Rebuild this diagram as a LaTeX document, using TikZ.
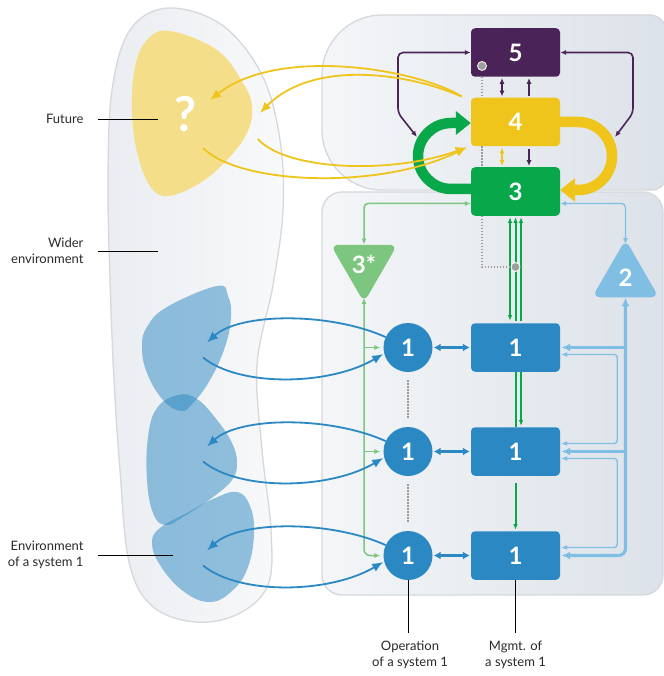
\documentclass[tikz,border=0pt]{standalone}
\usepackage{fontspec}
\setmainfont{Lato}
\usetikzlibrary{arrows.meta,shapes.geometric,calc}
\definecolor{cPurple}{HTML}{4A2358}
\definecolor{cYellow}{HTML}{EFC51B}
\definecolor{cGreen}{HTML}{08A84A}
\definecolor{cBlue}{HTML}{2B88C3}
\definecolor{cLBlue}{HTML}{80BFE3}
\definecolor{cLGreen}{HTML}{7CC67F}
\definecolor{cPaleYellow}{HTML}{F4DE8A}
\definecolor{cDot}{HTML}{9E9E9E}
\definecolor{cDotLine}{HTML}{9A9A9A}
\definecolor{cPanelL}{HTML}{F4F6F8}
\definecolor{cPanelR}{HTML}{DCE2E9}
\definecolor{cBorder}{HTML}{D5D8DC}
\definecolor{cEnvL}{HTML}{EAEDF1}
\definecolor{cEnvR}{HTML}{F8F9FA}
\definecolor{cText}{HTML}{2A2A2A}
\newcommand\vsmNum{\fontsize{24}{24}\selectfont\bfseries}
\newcommand\vsmLbl{\fontsize{13}{16.5}\selectfont}
\begin{document}
\begin{tikzpicture}[x=1pt,y=-1pt,
  >={Latex[length=6pt,width=5pt]},
  sysbox/.style={rectangle, rounded corners=4pt, minimum width=89pt, minimum height=48.5pt, inner sep=0pt, text=white, font=\vsmNum},
  opcircle/.style={circle, fill=cBlue, minimum size=49pt, inner sep=0pt, text=white, font=\vsmNum},
  tri/.style={regular polygon, regular polygon sides=3, minimum size=77pt, inner sep=0pt, rounded corners=8pt, text=white, font=\vsmNum},
  panel/.style={draw=cBorder, line width=1.3pt, left color=cPanelL, right color=cPanelR},
  envblob/.style={draw=cBorder, line width=1.3pt, left color=cEnvL, right color=cEnvR},
  bblob/.style={fill=cBlue, fill opacity=0.5},
  pline/.style={draw=cPurple, line width=1.6pt},
  yline/.style={draw=cYellow, line width=1.6pt},
  gline/.style={draw=cGreen, line width=2pt, >={Latex[length=6pt,width=4.5pt]}},
  lbthin/.style={draw=cLBlue, line width=1.3pt},
  lbthick/.style={draw=cLBlue, line width=3.2pt, >={Latex[length=9pt,width=8pt]}},
  lgline/.style={draw=cLGreen, line width=1.5pt},
  bthick/.style={draw=cBlue, line width=3pt, >={Latex[length=7pt,width=8pt]}},
  bcurve/.style={draw=cBlue, line width=1.8pt, >={Latex[length=11pt,width=9pt]}},
  ycurve/.style={draw=cYellow, line width=1.8pt, >={Latex[length=11pt,width=9pt]}},
  gdot/.style={draw=cDotLine, line width=1.6pt, dash pattern=on 1.4pt off 1.6pt},
  graydot/.style={circle, fill=cDot, draw=white, line width=0.8pt, minimum size=9pt, inner sep=0pt},
  lbl/.style={text=cText, font=\vsmLbl},
  leader/.style={draw=black, line width=0.9pt}
]
\useasboundingbox (0,0) rectangle (663,676);
\fill[white] (0,0) rectangle (663,676);

% ---------- backgrounds ----------
\path[envblob] plot[smooth cycle, tension=0.6] coordinates {
 (168,8) (222,25) (262,75) (280,140) (283,210) (273,285) (257,365) (262,450)
 (271,530) (268,585) (238,614) (195,622) (152,606) (129,562) (120,470)
 (114,380) (110,280) (108,180) (112,90) (130,30)};

\path[panel] (322,130) -- (322,75) .. controls (322,42) and (349,15) .. (382,15)
  -- (650,15) .. controls (658,15) and (666,22) .. (666,30) -- (666,176)
  .. controls (666,184) and (660,190) .. (652,190) -- (382,190)
  .. controls (349,190) and (322,163) .. (322,130) -- cycle;
\path[panel, rounded corners=20pt] (322,192) rectangle (663,595);

% future blob
\fill[cPaleYellow] plot[smooth cycle, tension=0.65] coordinates {
 (170,31) (217,50) (243,83) (252,107) (247,133) (227,160) (200,183) (168,196)
 (150,186) (137,152) (132,110) (135,67) (147,40)};
\node[text=white, font=\fontsize{48}{48}\selectfont\bfseries] (qm) at (186,114) {?};

% environment blobs
\path[bblob] plot[smooth cycle, tension=0.7] coordinates {
 (217,286) (228,296) (231,317) (225,347) (210,380) (193,403) (181,411)
 (163,400) (147,373) (142,347) (147,327) (167,307)};
\path[bblob] plot[smooth cycle, tension=0.7] coordinates {
 (178,395) (197,399) (217,420) (232,443) (237,463) (232,480) (213,497)
 (183,517) (165,525) (153,513) (147,480) (148,437) (157,408)};
\path[bblob] plot[smooth cycle, tension=0.7] coordinates {
 (237,492) (250,506) (254,533) (248,567) (233,590) (210,602) (183,591)
 (160,565) (152,543) (160,528) (187,513) (213,499)};

% ---------- nodes ----------
\node[sysbox, fill=cPurple] (s5) at (515.5,52.5) {5};
\node[sysbox, fill=cYellow] (s4) at (515.5,122) {4};
\node[sysbox, fill=cGreen]  (s3) at (515.5,191.5) {3};
\node[sysbox, fill=cBlue] (m1) at (515.5,347.5) {1};
\node[sysbox, fill=cBlue] (m2) at (515.5,451.5) {1};
\node[sysbox, fill=cBlue] (m3) at (515.5,555.5) {1};
\node[opcircle] (o1) at (408,347.5) {1};
\node[opcircle] (o2) at (408,451.5) {1};
\node[opcircle] (o3) at (408,555.5) {1};
\node[tri, fill=cLGreen, shape border rotate=180] (s3s) at (364,264) {3*};
\node[tri, fill=cLBlue] (s2) at (625.5,278) {2};

\node[graydot] (gd1) at (482,66) {};

% ---------- big loop arrows ----------
\draw[draw=cGreen, line width=10.5pt, -{Triangle[length=15pt,width=23pt]}]
  (s3.west |- 0,189) -- (451,189) .. controls (433,189) and (418,174) .. (418,156)
  .. controls (418,138) and (433,123) .. (451,123) -- (s4.west |- 0,123);
\draw[draw=cYellow, line width=10.5pt, -{Triangle[length=15pt,width=23pt]}]
  (s4.east |- 0,122) -- (578,122) .. controls (597,122) and (612,137) .. (612,156)
  .. controls (612,175) and (597,190) .. (578,190) -- (s3.east |- 0,190);

% ---------- purple ----------
\coordinate (pL) at (417,137);
\coordinate (pR) at (615,137);
\draw[pline,<->,rounded corners=5pt] (pL) -- (398,113) -- (398,52.5) -- (s5.west);
\draw[pline,<->,rounded corners=5pt] (pR) -- (633,113) -- (633,52.5) -- (s5.east);
\draw[pline,<->,shorten <=1pt,shorten >=1pt] ([xshift=-13.5pt]s5.south) -- ([xshift=-13.5pt]s4.north);
\draw[pline,->,shorten <=2pt,shorten >=1pt] ([xshift=13.5pt]s4.north) -- ([xshift=13.5pt]s5.south);
\draw[yline,<->,shorten <=1pt,shorten >=1pt] ([xshift=-13.5pt]s4.south) -- ([xshift=-13.5pt]s3.north);
\draw[pline,->,shorten <=3pt,shorten >=1pt] ([xshift=13.5pt]s4.south) -- ([xshift=13.5pt]s3.north);

% ---------- gray dotted ----------
\draw[gdot] (s5.south -| gd1) -- (s4.north -| gd1);
\draw[gdot] (s4.south -| gd1) -- (s3.north -| gd1);
\draw[gdot, shorten <=8pt, shorten >=8pt] (o1.south) -- (o2.north);
\draw[gdot, shorten <=8pt, shorten >=8pt] (o2.south) -- (o3.north);

% ---------- green command lines ----------
\draw[gline,<->,shorten <=1pt,shorten >=2pt] ([xshift=-5.5pt]s3.south) -- ([xshift=-5.5pt]m1.north);
\draw[gline,->,shorten <=2pt,shorten >=1pt] (m1.north) -- (s3.south);
\draw[gline,->,shorten <=2pt,shorten >=1pt] ([xshift=5.5pt]m1.north) -- ([xshift=5.5pt]s3.south);
\draw[gline] (m1.south) -- (m2.north);
\draw[gline,->,shorten >=1pt] ([xshift=5.5pt]m1.south) -- ([xshift=5.5pt]m2.north);
\draw[gline,->,shorten <=7pt,shorten >=1pt] (m2.south) -- (m3.north);

% audit dot on the command channel
\node[graydot] (gd2) at (515.5,267) {};
\draw[gdot] (s3.south -| gd1) |- (gd2);

% ---------- light blue (system 2) ----------
\draw[lbthin,<->,rounded corners=4pt] ([yshift=-12pt]s3.east) -| ($(s2.corner 1)+(0,5)$);
\draw[lbthick,<->,rounded corners=7pt,shorten >=1pt] (s2.south) -- (s2.south |- m3.east) -- (m3.east);
\draw[lbthick,->,shorten >=1pt] (s2.south |- m1.east) -- (m1.east);
\draw[lbthick,->,shorten >=1pt] (s2.south |- m2.east) -- (m2.east);
\draw[lbthin,<->,rounded corners=3pt,shorten <=1pt,shorten >=1pt] ([yshift=-7pt]m1.east) -- ++(57,0) |- ([yshift=8pt]m2.east);
\draw[lbthin,<->,rounded corners=3pt,shorten <=1pt,shorten >=1pt] ([yshift=-7pt]m2.east) -- ++(57,0) |- ([yshift=8pt]m3.east);

% ---------- light green (system 3*) ----------
\draw[lgline,<->,rounded corners=4pt] ([yshift=-12pt]s3.west) -| (s3s.north);
\draw[lgline,<->,rounded corners=6pt,shorten >=3pt] ($(s3s.south)+(0,-5)$) -- (s3s.south |- o3.west) -- (o3.west);
\draw[lgline,->,shorten >=3pt] (s3s.south |- o1.west) -- (o1.west);
\draw[lgline,->,shorten >=3pt] (s3s.south |- o2.west) -- (o2.west);

% ---------- operations <-> management ----------
\draw[bthick,<->,shorten <=1pt,shorten >=1pt] (o1.east) -- (m1.west);
\draw[bthick,<->,shorten <=1pt,shorten >=1pt] (o2.east) -- (m2.west);
\draw[bthick,<->,shorten <=1pt,shorten >=1pt] (o3.east) -- (m3.west);

% ---------- operations <-> environment ----------
\coordinate (e1a) at (207,342.5);
\coordinate (e1b) at (203,357.5);
\coordinate (e2a) at (207,446.5);
\coordinate (e2b) at (203,461.5);
\coordinate (e3a) at (207,550.5);
\coordinate (e3b) at (203,565.5);
\draw[bcurve,->] (o1.155) .. controls +(-56,-25) and +(33,-30) .. (e1a);
\draw[bcurve,->,shorten >=1pt] (e1b) .. controls +(37,30) and +(-54,32) .. (o1.194);
\draw[bcurve,->] (o2.155) .. controls +(-56,-25) and +(33,-30) .. (e2a);
\draw[bcurve,->,shorten >=1pt] (e2b) .. controls +(37,30) and +(-54,32) .. (o2.194);
\draw[bcurve,->] (o3.155) .. controls +(-56,-25) and +(33,-30) .. (e3a);
\draw[bcurve,->,shorten >=1pt] (e3b) .. controls +(37,30) and +(-54,32) .. (o3.194);

% ---------- system 4 <-> future ----------
\coordinate (yA) at (210,100);
\coordinate (yB) at (260,113);
\coordinate (yC) at (203,148);
\coordinate (yD) at (258,139);
\draw[ycurve,->] ($(s4.north west)+(-9,-1)$) .. controls (420,70) and (280,45) .. (yA);
\draw[ycurve,->] ($(s4.north west)+(-9,-1)$) .. controls (400,70) and (310,62) .. (yB);
\draw[ycurve,->] (yC) .. controls (240,185) and (380,190) .. ($(s4.south west)+(-4,1)$);
\draw[ycurve,->] (yD) .. controls (285,170) and (390,175) .. ($(s4.south west)+(-4,1)$);

% ---------- labels ----------
\node[lbl, anchor=east] (tFuture) at (87,119) {Future};
\draw[leader] ([xshift=11pt]tFuture.east) -- ++(60,0);
\node[lbl, anchor=east, align=right] (tWider) at (87,251) {Wider\\environment};
\draw[leader] ([xshift=11pt]tWider.east) -- ++(60,0);
\node[lbl, anchor=east, align=right] (tEnv) at (87,555) {Environment\\of a system 1};
\draw[leader] ([xshift=11pt]tEnv.east) -- ++(75,0);
\node[lbl, align=center] (tOp) at (410,655) {Operation\\of a system 1};
\draw[leader] (o3.south) -- ++(0,53);
\node[lbl, align=center] (tMg) at (515.5,655) {Mgmt. of\\a system 1};
\draw[leader] (m3.south) -- ++(0,53);
\end{tikzpicture}
\end{document}
